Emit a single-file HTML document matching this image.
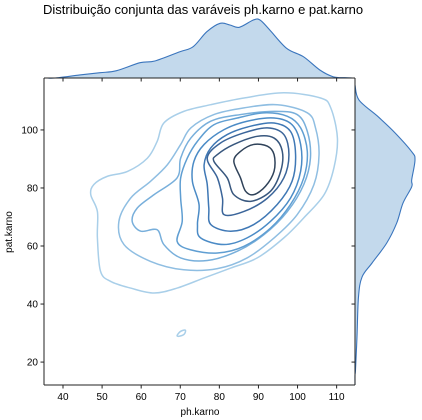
<!DOCTYPE html>
<html><head><meta charset="utf-8">
<style>
body{margin:0;background:#fff;}
svg{display:block;font-family:"Liberation Sans","DejaVu Sans",sans-serif;}
</style></head>
<body>
<svg id="chart" width="422" height="420" viewBox="0 0 422 420">
<text x="43" y="14" font-size="13" fill="#000">Distribuição conjunta das varáveis ph.karno e pat.karno</text>
<g id="contours"></g>
<g id="marg"></g>
<g id="axes"></g>
<text x="200" y="415" font-size="10" text-anchor="middle">ph.karno</text>
<text transform="translate(12,232) rotate(-90)" font-size="10" text-anchor="middle">pat.karno</text>
</svg>
<script>
const xTicks=[40,50,60,70,80,90,100,110];
const yTicks=[20,40,60,80,100];
const topX=[36,38.0,44.3,49.5,53.7,59.7,63.5,69.9,73.3,76.8,80.2,82.7,85.1,88.7,90.4,92.9,97.2,101.5,105.7,109.1,112.1,114];
const topD=[0,0,0.052,0.091,0.126,0.264,0.293,0.453,0.54,0.798,0.943,0.914,0.874,1.0,1.0,0.828,0.512,0.367,0.138,0.022,0.005,0];
const rightY=[115.5,110.3,104.6,99.0,92.5,89.7,82.8,80.4,74.8,67.9,61.0,54.1,49.3,42.4,28.6,17.2,15.5,12.2];
const rightD=[0,0.067,0.383,0.667,0.945,1.0,0.945,0.945,0.8,0.695,0.528,0.283,0.117,0.058,0.033,0.008,0,0];
const c1X=[47.1,48.8,48.8,49.6,52.2,57.3,63.3,69.2,76.1,82.9,89.7,96.5,101.6,106.8,109.3,110.2,108.5,105.9,96.5,86.3,77.8,70.9,65.8,64.1,61.6,56.5,51.3,47.9];
const c1Y=[77.7,71.9,62.8,51.3,47.8,45.5,43.8,45.5,49.0,52.4,55.9,62.8,69.7,77.7,86.9,97.2,107.6,111.0,112.8,111.0,108.7,106.4,102.4,96.1,90.3,85.7,84.0,81.2];
const c2X=[54.3,55.6,62.4,70.9,79.5,87.1,94.0,99.9,104.2,105.5,104.6,102.5,94.8,86.3,78.6,72.7,70.1,66.7,62.4,57.3];
const c2Y=[68.5,60.5,54.7,51.8,52.2,55.9,62.8,70.8,81.2,91.5,100.7,105.9,108.7,107.6,105.3,100.7,95.0,88.0,82.3,76.5];
const c3X=[57.7,59.9,64.1,65.8,70.1,76.9,84.6,91.4,97.4,101.6,103.3,102.5,99.9,94.0,85.4,77.8,72.7,70.1,69.2,63.3,59.0];
const c3Y=[68.5,65.1,65.6,60.5,55.9,55.0,58.2,63.9,71.9,81.2,90.3,99.5,105.3,106.4,105.3,103.0,97.2,90.3,83.5,77.7,73.1];
const c4X=[70.1,70.1,70.5,69.2,72.6,79.5,86.3,93.1,98.2,101.6,102.5,100.8,97.4,91.4,84.6,78.6,74.4,71.8];
const c4Y=[83.5,76.5,68.5,61.6,58.7,57.6,59.9,66.2,74.3,83.5,92.6,100.7,104.7,105.9,104.1,101.8,96.1,90.3];
const c5X=[73.1,74.8,74.4,75.2,81.2,87.1,93.1,98.2,100.8,100.8,98.6,94.0,87.1,81.2,76.1,73.5];
const c5Y=[82.3,74.3,67.4,62.8,60.5,62.8,68.5,76.5,85.8,95.0,101.8,104.1,103.0,100.1,95.0,89.2];
const c6X=[76.1,76.9,77.3,77.8,82.9,88.8,94.8,98.6,99.5,98.2,94.0,88.0,82.0,77.8];
const c6Y=[88.0,81.2,73.1,67.4,65.1,67.4,74.3,82.3,91.5,99.5,102.4,101.3,98.4,93.8];
const c7X=[76.9,79.5,80.8,81.2,86.3,92.3,96.5,97.8,96.5,92.3,86.3,80.3];
const c7Y=[90.3,83.5,76.5,70.8,71.9,76.5,83.5,91.5,98.4,100.7,99.0,95.5];
const c8X=[78.6,82.0,83.7,88.0,93.1,95.7,96.1,94.0,89.7,83.7,79.5];
const c8Y=[89.2,83.5,77.7,75.4,78.9,85.8,92.6,97.2,97.8,95.0,91.5];
const c9X=[83.7,85.4,86.7,88.8,91.8,94.0,94.0,92.3,88.8,85.4];
const c9Y=[89.2,83.5,78.9,77.7,80.6,85.8,91.5,94.4,95.0,92.6];
const islandX=[69.2,70.1,71.3,71.0,69.7];
const islandY=[29.2,30.6,31.0,29.6,28.9];

const NS="http://www.w3.org/2000/svg";
const L=44,R=355,T=78,B=385;
const xmin=35.14,xmax=114.7,ymin=12.1,ymax=117.9;
const sx=v=>L+(v-xmin)/(xmax-xmin)*(R-L);
const sy=v=>B-(v-ymin)/(ymax-ymin)*(B-T);
const topH=58, rightW=60;
const sTop=d=>T-d*topH;
const sRight=d=>R+d*rightW;

function mk(tag,attrs,parent){const e=document.createElementNS(NS,tag);for(const k in attrs)e.setAttribute(k,attrs[k]);parent.appendChild(e);return e;}
function closedPath(pts){
  const n=pts.length;let d=`M${pts[0][0].toFixed(2)},${pts[0][1].toFixed(2)}`;
  for(let i=0;i<n;i++){
    const p0=pts[(i-1+n)%n],p1=pts[i],p2=pts[(i+1)%n],p3=pts[(i+2)%n];
    const c1=[p1[0]+(p2[0]-p0[0])/6,p1[1]+(p2[1]-p0[1])/6];
    const c2=[p2[0]-(p3[0]-p1[0])/6,p2[1]-(p3[1]-p1[1])/6];
    d+=`C${c1[0].toFixed(2)},${c1[1].toFixed(2)} ${c2[0].toFixed(2)},${c2[1].toFixed(2)} ${p2[0].toFixed(2)},${p2[1].toFixed(2)}`;
  }
  return d+"Z";
}
function openPath(pts){
  let d=`M${pts[0][0].toFixed(2)},${pts[0][1].toFixed(2)}`;
  const n=pts.length;
  for(let i=0;i<n-1;i++){
    const p0=pts[Math.max(i-1,0)],p1=pts[i],p2=pts[i+1],p3=pts[Math.min(i+2,n-1)];
    const c1=[p1[0]+(p2[0]-p0[0])/6,p1[1]+(p2[1]-p0[1])/6];
    const c2=[p2[0]-(p3[0]-p1[0])/6,p2[1]-(p3[1]-p1[1])/6];
    d+=`C${c1[0].toFixed(2)},${c1[1].toFixed(2)} ${c2[0].toFixed(2)},${c2[1].toFixed(2)} ${p2[0].toFixed(2)},${p2[1].toFixed(2)}`;
  }
  return d;
}

const cg=document.getElementById('contours');
const levels=[[c1X,c1Y],[c2X,c2Y],[c3X,c3Y],[c4X,c4Y],[c5X,c5Y],[c6X,c6Y],[c7X,c7Y],[c8X,c8Y],[c9X,c9Y]];
const colors=['#a9cfe9','#8fbee2','#78afdb','#5f9ed2','#4b8bc6','#3f78b5','#3b659a','#38577e','#2f4259'];
levels.forEach((lv,i)=>{
  const pts=lv[0].map((x,j)=>[sx(x),sy(lv[1][j])]);
  const p=mk('path',{d:closedPath(pts),fill:'none',stroke:colors[i],'stroke-width':1.5},cg);
  
  
});
{
  const pts=islandX.map((x,j)=>[sx(x),sy(islandY[j])]);
  const p=mk('path',{d:closedPath(pts),fill:'none',stroke:colors[0],'stroke-width':1.5},cg);
  
  
}

const mg=document.getElementById('marg');
{
  const pts=topX.map((x,j)=>[sx(x),sTop(topD[j])]);
  const line=openPath(pts);
  const f=mk('path',{d:line+`L${sx(topX[topX.length-1])},${T}L${sx(topX[0])},${T}Z`,fill:'#c3d9ec',stroke:'none'},mg);
  
  
  const l=mk('path',{d:line,fill:'none',stroke:'#3a75bd','stroke-width':1.1},mg);
  
  
  const pts2=rightY.map((y,j)=>[sRight(rightD[j]),sy(y)]);
  const line2=openPath(pts2);
  const f2=mk('path',{d:line2+`L${R},${sy(rightY[rightY.length-1])}L${R},${sy(rightY[0])}Z`,fill:'#c3d9ec',stroke:'none'},mg);
  
  
  const l2=mk('path',{d:line2,fill:'none',stroke:'#3a75bd','stroke-width':1.1},mg);
  
  
}

const ag=document.getElementById('axes');
const spines=[[L,T,L,B],[L,B,R,B],[L,T,R,T],[R,T,R,B]];
spines.forEach((s,i)=>{
  const e=mk('line',{x1:s[0],y1:s[1],x2:s[2],y2:s[3],stroke:'#222','stroke-width':1},ag);
  
  
});
xTicks.forEach(v=>{
  const x=sx(v);
  const t=mk('line',{x1:x,y1:B,x2:x,y2:B+3.5,stroke:'#222'},ag);
  
  
  const t2=mk('line',{x1:x,y1:T,x2:x,y2:T+3.5,stroke:'#222'},ag);
  
  
  const lb=mk('text',{x:x,y:B+15,'font-size':10,'text-anchor':'middle',fill:'#000'},ag);
  lb.textContent=v;
  
  
});
yTicks.forEach(v=>{
  const y=sy(v);
  const t=mk('line',{x1:L-3.5,y1:y,x2:L,y2:y,stroke:'#222'},ag);
  
  
  const t2=mk('line',{x1:R-3.5,y1:y,x2:R,y2:y,stroke:'#222'},ag);
  
  
  const lb=mk('text',{x:L-6,y:y+3.5,'font-size':10,'text-anchor':'end',fill:'#000'},ag);
  lb.textContent=v;
  
  
});
</script>
</body></html>
